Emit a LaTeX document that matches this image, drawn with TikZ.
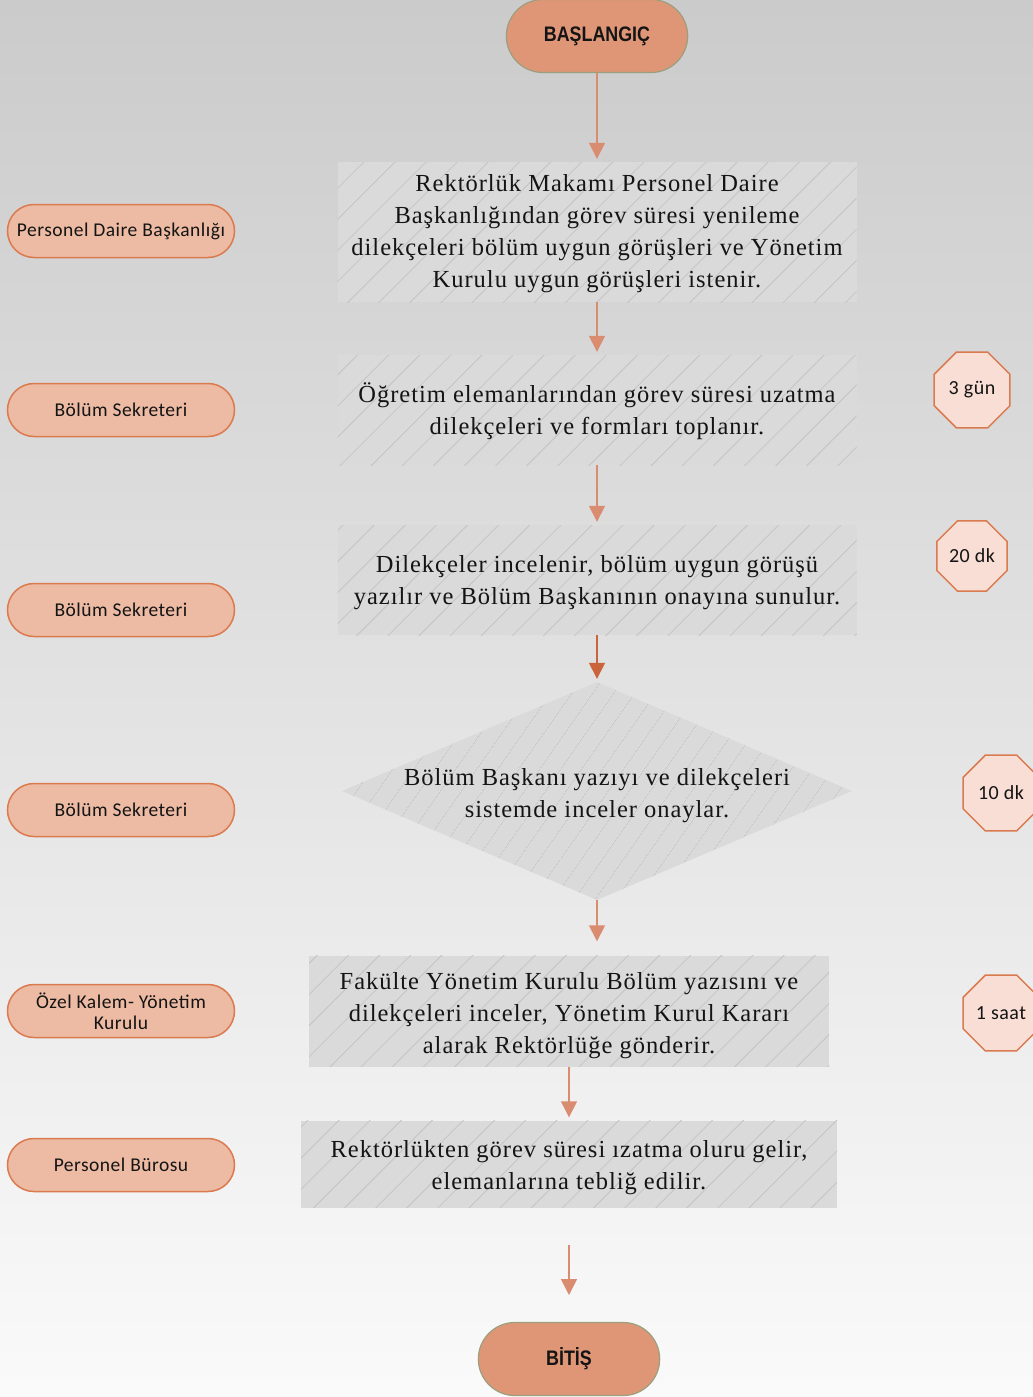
\documentclass[tikz,border=0pt]{standalone}
\usepackage{fontspec}
\setmainfont[LetterSpace=4]{Liberation Serif}
\newfontfamily\pillfont[LetterSpace=2.5]{Carlito}
\newfontfamily\headfont[FakeStretch=0.85]{Liberation Sans}
\usetikzlibrary{shapes.geometric,shapes.misc,arrows.meta,patterns.meta}
\definecolor{bgtop}{HTML}{CBCBCB}
\definecolor{bgbot}{HTML}{FAFAFA}
\definecolor{termfill}{HTML}{DF9677}
\definecolor{termdraw}{HTML}{9C9F7E}
\definecolor{pillfill}{HTML}{EDBBA4}
\definecolor{pilldraw}{HTML}{DA7A4F}
\definecolor{octfill}{HTML}{F8DED5}
\definecolor{octdraw}{HTML}{DA7A4F}
\definecolor{boxfill}{HTML}{DADADA}
\definecolor{hatch}{HTML}{C4C4C4}
\definecolor{arrcol}{HTML}{D98C70}
\definecolor{arrdark}{HTML}{C9643B}
\definecolor{txt}{HTML}{141414}
\begin{document}
\begin{tikzpicture}[x=1pt,y=-1pt,
  terminal/.style={rounded rectangle, draw=termdraw, fill=termfill, line width=1.2pt,
    minimum width=188pt, minimum height=73pt, text=txt,
    font=\headfont\bfseries\fontsize{21}{24}\selectfont},
  process/.style={rectangle, fill=boxfill, inner sep=0pt,
    postaction={pattern={Lines[angle=45,distance=22pt,line width=0.8pt]}, pattern color=hatch}},
  decision/.style={diamond, fill=boxfill, inner sep=0pt,
    minimum width=510pt, minimum height=218pt,
    postaction={pattern={Lines[angle=55,distance=17pt,line width=0.8pt]}, pattern color=hatch}},
  ptext/.style={text=txt, align=center, inner sep=0pt, font=\fontsize{24.5}{32}\selectfont},
  pill/.style={rounded rectangle, fill=pillfill, draw=pilldraw, line width=1.5pt,
    minimum width=231pt, minimum height=53pt, align=center, text=txt, inner sep=2pt,
    font=\pillfont\fontsize{19.5}{24}\selectfont},
  oct/.style={regular polygon, regular polygon sides=8, fill=octfill, draw=octdraw,
    line width=1.5pt, minimum size=82pt, inner sep=0pt, text=txt,
    font=\pillfont\fontsize{20}{22}\selectfont},
  arr/.style={draw=arrcol, line width=1.5pt, -{Triangle[width=16pt,length=16pt]}},
  arrd/.style={draw=arrdark, line width=1.5pt, -{Triangle[width=16pt,length=16pt]}}
]
\useasboundingbox (0,0) rectangle (1033,1397);
\shade[top color=bgtop, bottom color=bgbot] (0,0) rectangle (1033,1397);

% terminals
\node[terminal] (start) at (597,36) {BAŞLANGIÇ};
\node[terminal] (stop) at (569,1359) {BİTİŞ};

% process boxes
\node[process, minimum width=519pt, minimum height=140pt] (b1) at (597,232) {};
\node[ptext] (b1t) at ([yshift=-2pt]b1.center)
  {Rektörlük Makamı Personel Daire\\Başkanlığından görev süresi yenileme\\dilekçeleri bölüm uygun görüşleri ve Yönetim\\Kurulu uygun görüşleri istenir.};
\node[process, minimum width=519pt, minimum height=110pt] (b2) at (597,410) {};
\node[ptext] (b2t) at ([yshift=-1.5pt]b2.center)
  {Öğretim elemanlarından görev süresi uzatma\\dilekçeleri ve formları toplanır.};
\node[process, minimum width=519pt, minimum height=110pt] (b3) at (597,580) {};
\node[ptext] (b3t) at ([yshift=-3pt]b3.center)
  {Dilekçeler incelenir, bölüm uygun görüşü\\yazılır ve Bölüm Başkanının onayına sunulur.};
\node[decision] (d1) at (597,791) {};
\node[ptext] (d1t) at ([yshift=-5pt]d1.center)
  {Bölüm Başkanı yazıyı ve dilekçeleri\\sistemde inceler onaylar.};
\node[process, minimum width=520pt, minimum height=111pt] (b4) at (569,1011) {};
\node[ptext] (b4t) at ([yshift=-5pt]b4.center)
  {Fakülte Yönetim Kurulu Bölüm yazısını ve\\dilekçeleri inceler, Yönetim Kurul Kararı\\alarak Rektörlüğe gönderir.};
\node[process, minimum width=536pt, minimum height=87pt] (b5) at (569,1164) {};
\node[ptext] (b5t) at ([yshift=-4pt]b5.center)
  {Rektörlükten görev süresi ızatma oluru gelir,\\elemanlarına tebliğ edilir.};

% left responsibility pills
\node[pill] (p1) at (121,231) {Personel Daire Başkanlığı};
\node[pill] (p2) at (121,410) {Bölüm Sekreteri};
\node[pill] (p3) at (121,610) {Bölüm Sekreteri};
\node[pill] (p4) at (121,810) {Bölüm Sekreteri};
\node[pill] (p5) at (121,1011) {Özel Kalem- Yönetim\\[-3pt]Kurulu};
\node[pill] (p6) at (121,1165) {Personel Bürosu};

% right time octagons
\node[oct] (t1) at (972,390) {3 gün};
\node[oct, minimum size=76pt] (t2) at (972,556) {20 dk};
\node[oct] (t3) at (1001,793) {10 dk};
\node[oct] (t4) at (1001,1013) {1 saat};

% connectors
\coordinate (e1) at (569,1245);
\coordinate (e2) at (569,1295);
\draw[arr, shorten >=3pt] (start.south) -- (b1.north);
\draw[arr, shorten >=3pt] (b1.south) -- (b2.north);
\draw[arr, shorten >=3pt] (b2.south) -- (b3.north);
\draw[arrd, shorten >=3pt] (b3.south) -- (d1.north);
\draw[arr, shorten >=14pt] (d1.south) -- (d1.south |- b4.north);
\draw[arr, shorten >=3pt] (b4.south) -- (b5.north);
\draw[arr] (e1) -- (e2);
\end{tikzpicture}
\end{document}
